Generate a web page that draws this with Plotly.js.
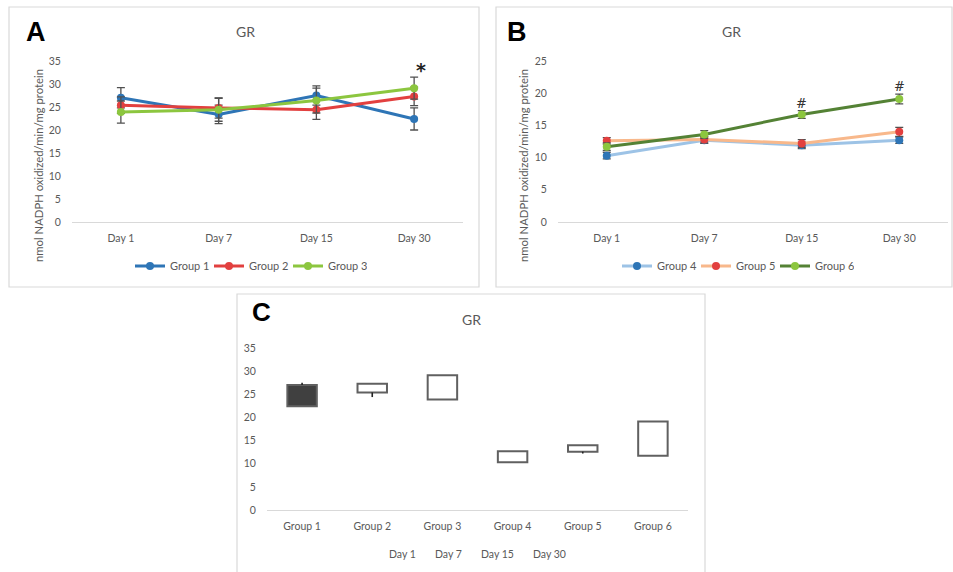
<!DOCTYPE html>
<html><head><meta charset="utf-8">
<script src="https://cdn.plot.ly/plotly-3.0.1.min.js"></script>
<style>html,body{margin:0;padding:0;background:#fff}#chart{width:953px;height:572px}</style>
</head><body><div id="chart"></div>
<script>
// ---- data ----
const days = ['Day 1', 'Day 7', 'Day 15', 'Day 30'];
const groupNames = ['Group 1', 'Group 2', 'Group 3', 'Group 4', 'Group 5', 'Group 6'];

const group1 = [27.0, 23.4, 27.5, 22.4];
const err1   = [2.2, 2.0, 2.1, 2.4];
const group2 = [25.4, 24.8, 24.4, 27.3];
const err2   = [1.8, 2.2, 2.1, 2.0];
const group3 = [23.9, 24.4, 26.4, 29.1];
const err3   = [2.4, 2.5, 2.7, 2.4];

const group4 = [10.3, 12.7, 11.9, 12.7];
const err4   = [0.5, 0.5, 0.5, 0.5];
const group5 = [12.6, 12.8, 12.2, 14.0];
const err5   = [0.5, 0.5, 0.6, 0.7];
const group6 = [11.7, 13.6, 16.7, 19.1];
const err6   = [0.6, 0.6, 0.6, 0.75];

const yTicksA = [0, 5, 10, 15, 20, 25, 30, 35];
const yTicksB = [0, 5, 10, 15, 20, 25];
const axisTitle = 'nmol NADPH oxidized/min/mg protein';

// ---- helpers ----
const W = 953, H = 572;
const px = x => x / W, py = y => 1 - y / H;
const FONT = 'Lato, "Open Sans", sans-serif';
const GREY = '#595959';

function lineTrace(name, y, err, lineColor, markerColor, xa, ya, legend, lw) {
  return {
    type: 'scatter', mode: 'lines+markers', x: days, y: y, name: name,
    xaxis: xa, yaxis: ya, legend: legend,
    line: {color: lineColor, width: lw},
    marker: {color: markerColor, size: 8},
    error_y: {type: 'data', array: err, visible: true, color: '#505050', thickness: 1.3, width: 4}
  };
}

const traces = [
  lineTrace('Group 1', group1, err1, '#2E75B6', '#2E75B6', 'x', 'y', 'legend', 3),
  lineTrace('Group 2', group2, err2, '#E2403F', '#E2403F', 'x', 'y', 'legend', 3),
  lineTrace('Group 3', group3, err3, '#8CC63F', '#8CC63F', 'x', 'y', 'legend', 3),
  lineTrace('Group 4', group4, err4, '#9DC3E6', '#2E75B6', 'x2', 'y2', 'legend2', 3),
  lineTrace('Group 5', group5, err5, '#F8B88B', '#E2403F', 'x2', 'y2', 'legend2', 3),
  lineTrace('Group 6', group6, err6, '#548235', '#8CC63F', 'x2', 'y2', 'legend2', 3)
];

// ---- panel C: stock chart (open=Day1, high=Day7, low=Day15, close=Day30) ----
const allGroups = [group1, group2, group3, group4, group5, group6];
const openV = allGroups.map(g => g[0]);
const closeV = allGroups.map(g => g[3]);
const boxLo = openV.map((o, i) => Math.min(o, closeV[i]));
const boxHi = openV.map((o, i) => Math.max(o, closeV[i]));
// high-low lines join the highest and lowest value of each category
const hlMin = allGroups.map(g => Math.min(...g));
const hlMax = allGroups.map(g => Math.max(...g));

// high-low line segments outside the up/down bars
const wx = [], wy = [];
groupNames.forEach((g, i) => {
  if (hlMin[i] < boxLo[i]) { wx.push(g, g, null); wy.push(hlMin[i], boxLo[i], null); }
  if (hlMax[i] > boxHi[i]) { wx.push(g, g, null); wy.push(boxHi[i], hlMax[i], null); }
});
traces.push({
  type: 'scatter', mode: 'lines', x: wx, y: wy, xaxis: 'x3', yaxis: 'y3',
  line: {color: '#222', width: 1.6}, showlegend: false, hoverinfo: 'skip'
});
traces.push({
  type: 'bar', x: groupNames, base: boxLo, y: boxHi.map((h, i) => h - boxLo[i]),
  xaxis: 'x3', yaxis: 'y3', width: 0.42, showlegend: false,
  marker: {color: openV.map((o, i) => closeV[i] < o ? '#404040' : '#ffffff'),
           line: {color: '#606060', width: 2}}
});

// ---- layout ----
function xAxis(domain, anchor, cats) {
  return {domain: domain, anchor: anchor, type: 'category', categoryarray: cats, categoryorder: 'array',
    range: [-0.5, cats.length - 0.5], showline: true, linecolor: '#D9D9D9', linewidth: 1.2,
    showgrid: false, zeroline: false, ticks: 'outside', ticklen: 6, tickcolor: 'rgba(0,0,0,0)',
    tickfont: {size: 10.5, color: GREY, family: FONT}, fixedrange: true};
}
function yAxis(domain, anchor, ticks) {
  return {domain: domain, anchor: anchor, range: [0, ticks[ticks.length - 1]], tickvals: ticks,
    showline: false, showgrid: false, zeroline: false, ticks: 'outside', ticklen: 8,
    tickcolor: 'rgba(0,0,0,0)', tickfont: {size: 10.5, color: GREY, family: FONT}, fixedrange: true};
}
const legendBase = {orientation: 'h', xanchor: 'left', yanchor: 'middle',
  font: {size: 11, color: GREY, family: FONT}, bgcolor: 'rgba(0,0,0,0)', itemwidth: 30,
  entrywidth: 34, entrywidthmode: 'pixels'};

const ann = [];
function txt(text, x, y, size, opts) {
  ann.push(Object.assign({text: text, x: px(x), y: py(y), xref: 'paper', yref: 'paper',
    showarrow: false, xanchor: 'center', yanchor: 'middle',
    font: {size: size, color: GREY, family: FONT}}, opts || {}));
}
const LETTER = {family: '"Liberation Sans", Arial, sans-serif', size: 27, color: '#000'};
txt('<b>A</b>', 36, 32, 27, {font: LETTER});
txt('<b>B</b>', 517, 32, 27, {font: LETTER});
txt('<b>C</b>', 261, 312, 26, {font: Object.assign({}, LETTER, {size: 26})});
txt('GR', 245, 32, 14);
txt('GR', 731, 32, 14);
txt('GR', 471, 319, 14);
txt(axisTitle, 38, 166, 11.3, {textangle: -90});
txt(axisTitle, 523, 166, 11.3, {textangle: -90});
// panel C legend (stock chart series names, no symbols)
const cLegX = [402, 448, 497, 549];
days.forEach((d, i) => txt(d, cLegX[i], 554, 10.5));
// significance marks
ann.push({text: '<b>*</b>', x: 'Day 30', y: group3[3] + err3[3], xref: 'x', yref: 'y', showarrow: false,
  yanchor: 'bottom', xshift: 7, yshift: -6, font: {size: 19, color: '#222', family: '"DejaVu Sans", sans-serif'}});
[2, 3].forEach(i => ann.push({text: '#', x: days[i], y: group6[i] + err6[i], xref: 'x2', yref: 'y2',
  showarrow: false, yanchor: 'bottom', yshift: -2, font: {size: 13, color: '#333', family: '"DejaVu Serif", serif'}}));

function box(x0, y0, x1, y1) {
  return {type: 'rect', xref: 'paper', yref: 'paper', x0: px(x0), x1: px(x1), y0: py(y1), y1: py(y0),
    line: {color: '#D9D9D9', width: 1.2}, fillcolor: 'rgba(0,0,0,0)', layer: 'below'};
}

const layout = {
  width: W, height: H, margin: {l: 0, r: 0, t: 0, b: 0},
  paper_bgcolor: '#fff', plot_bgcolor: 'rgba(0,0,0,0)',
  font: {family: FONT, color: GREY},
  barmode: 'overlay', hovermode: false,
  xaxis: xAxis([px(72), px(463)], 'y', days),
  yaxis: yAxis([py(222), py(61)], 'x', yTicksA),
  xaxis2: xAxis([px(558), px(948)], 'y2', days),
  yaxis2: yAxis([py(222), py(61)], 'x2', yTicksB),
  xaxis3: xAxis([px(267), px(688)], 'y3', groupNames),
  yaxis3: yAxis([py(510), py(348)], 'x3', yTicksA),
  legend: Object.assign({x: px(130), y: py(266)}, legendBase),
  legend2: Object.assign({x: px(617), y: py(266)}, legendBase),
  annotations: ann,
  shapes: [box(9, 7, 479, 287), box(496, 7, 952, 287), box(237, 294, 705, 580)]
};

Plotly.newPlot('chart', traces, layout, {displayModeBar: false, staticPlot: true});
</script>
</body></html>
